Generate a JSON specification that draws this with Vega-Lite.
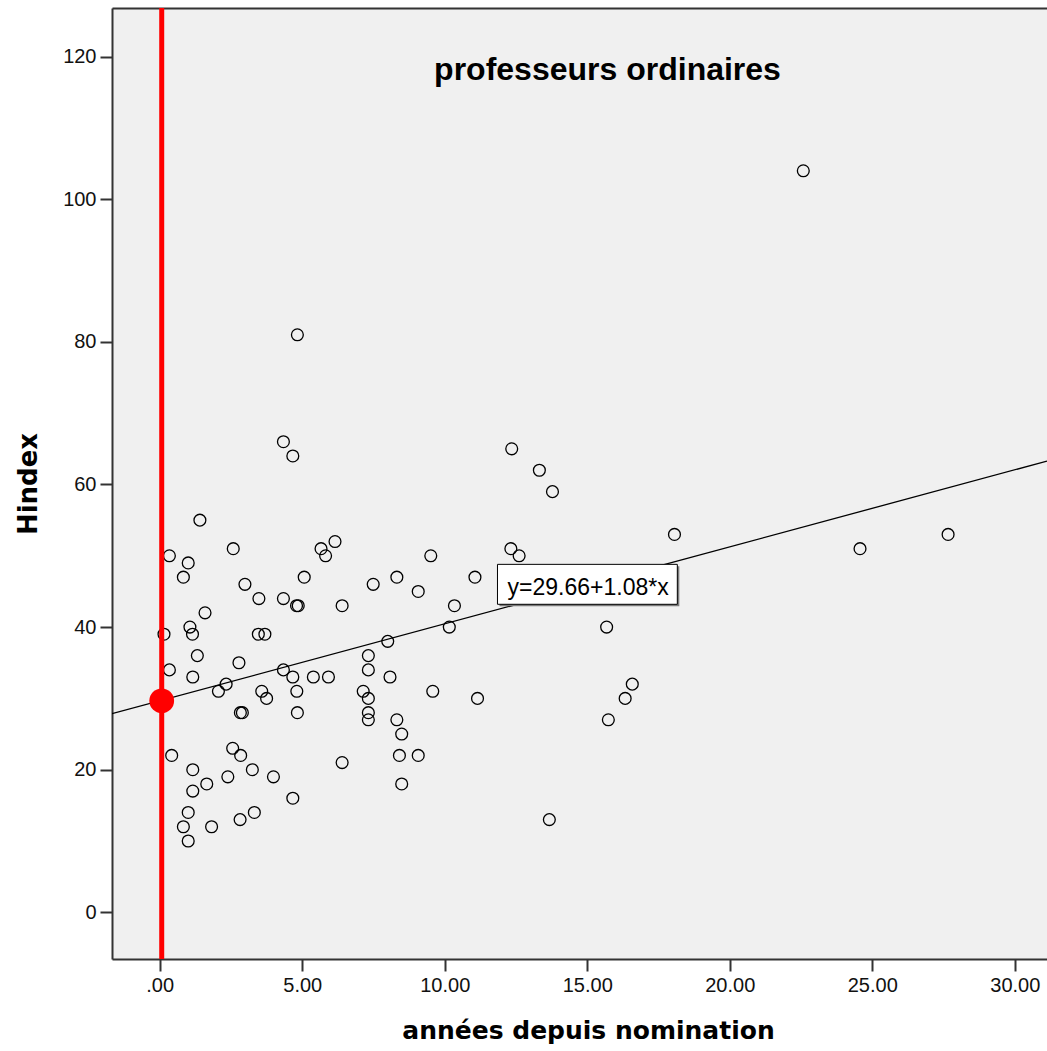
{
  "$schema": "https://vega.github.io/schema/vega-lite/v6.json",
  "autosize": "none",
  "width": 935,
  "height": 951,
  "padding": {"left": 112, "top": 8, "right": 0, "bottom": 92},
  "background": "white",
  "config": {"view": {"fill": "#f0f0f0", "stroke": null}, "font": "Liberation Sans"},
  "title": {
    "text": "professeurs ordinaires",
    "font": "Liberation Sans",
    "fontSize": 32,
    "fontWeight": "bold",
    "color": "#000",
    "anchor": "middle",
    "frame": "group",
    "orient": "top",
    "offset": 0,
    "baseline": "alphabetic",
    "dy": 106,
    "dx": 28
  },
  "datasets": {
    "pts": [
      {"x": 1.41, "y": 55}, {"x": 0.34, "y": 50}, {"x": 1.0, "y": 49}, {"x": 0.83, "y": 47},
      {"x": 2.58, "y": 51}, {"x": 2.99, "y": 46}, {"x": 3.48, "y": 44}, {"x": 4.34, "y": 44},
      {"x": 4.8, "y": 43}, {"x": 4.86, "y": 43}, {"x": 5.07, "y": 47}, {"x": 5.66, "y": 51},
      {"x": 6.15, "y": 52}, {"x": 5.82, "y": 50}, {"x": 6.4, "y": 43}, {"x": 1.59, "y": 42},
      {"x": 1.06, "y": 40}, {"x": 1.15, "y": 39}, {"x": 0.15, "y": 39}, {"x": 3.46, "y": 39},
      {"x": 3.69, "y": 39}, {"x": 1.32, "y": 36}, {"x": 2.78, "y": 35}, {"x": 0.34, "y": 34},
      {"x": 1.16, "y": 33}, {"x": 4.34, "y": 34}, {"x": 4.67, "y": 33}, {"x": 5.39, "y": 33},
      {"x": 5.92, "y": 33}, {"x": 2.33, "y": 32}, {"x": 2.06, "y": 31}, {"x": 3.58, "y": 31},
      {"x": 3.75, "y": 30}, {"x": 4.81, "y": 31}, {"x": 4.83, "y": 28}, {"x": 2.83, "y": 28},
      {"x": 2.9, "y": 28}, {"x": 0.42, "y": 22}, {"x": 2.56, "y": 23}, {"x": 2.84, "y": 22},
      {"x": 1.16, "y": 20}, {"x": 2.39, "y": 19}, {"x": 3.25, "y": 20}, {"x": 3.99, "y": 19},
      {"x": 1.65, "y": 18}, {"x": 1.16, "y": 17}, {"x": 4.67, "y": 16}, {"x": 1.0, "y": 14},
      {"x": 3.32, "y": 14}, {"x": 0.83, "y": 12}, {"x": 1.82, "y": 12}, {"x": 2.82, "y": 13},
      {"x": 1.0, "y": 10}, {"x": 6.4, "y": 21}, {"x": 4.83, "y": 81}, {"x": 4.34, "y": 66},
      {"x": 4.67, "y": 64}, {"x": 7.49, "y": 46}, {"x": 8.32, "y": 47}, {"x": 9.07, "y": 45},
      {"x": 9.51, "y": 50}, {"x": 11.06, "y": 47}, {"x": 10.34, "y": 43}, {"x": 10.16, "y": 40},
      {"x": 8.0, "y": 38}, {"x": 7.32, "y": 36}, {"x": 7.32, "y": 34}, {"x": 8.08, "y": 33},
      {"x": 7.14, "y": 31}, {"x": 9.58, "y": 31}, {"x": 7.32, "y": 30}, {"x": 7.32, "y": 28},
      {"x": 7.32, "y": 27}, {"x": 11.15, "y": 30}, {"x": 8.32, "y": 27}, {"x": 8.49, "y": 25},
      {"x": 8.41, "y": 22}, {"x": 9.07, "y": 22}, {"x": 8.49, "y": 18}, {"x": 12.35, "y": 65},
      {"x": 13.32, "y": 62}, {"x": 13.78, "y": 59}, {"x": 18.06, "y": 53}, {"x": 12.32, "y": 51},
      {"x": 12.61, "y": 50}, {"x": 15.68, "y": 40}, {"x": 16.58, "y": 32}, {"x": 16.33, "y": 30},
      {"x": 15.74, "y": 27}, {"x": 13.67, "y": 13}, {"x": 22.58, "y": 104}, {"x": 24.57, "y": 51},
      {"x": 27.66, "y": 53}
    ],
    "fit": [
      {"x": -1.674, "y": 27.85},
      {"x": 31.13, "y": 63.28}
    ],
    "ann": [
      {"x1": 11.85, "x2": 18.16, "y1": 43.2, "y2": 48.8, "xm": 15.03, "ym": 44.5, "label": "y=29.66+1.08*x"}
    ],
    "marker": [
      {"x": 0, "y": 29.66}
    ]
  },
  "layer": [
    {
      "data": {"name": "pts"},
      "mark": {"type": "point", "shape": "circle", "filled": false, "stroke": "#000", "strokeWidth": 1.3, "size": 140, "opacity": 1},
      "encoding": {
        "x": {
          "field": "x", "type": "quantitative",
          "scale": {"domain": [-1.674, 31.13], "nice": false, "zero": false},
          "axis": {
            "orient": "bottom",
            "values": [0, 5, 10, 15, 20, 25, 30],
            "labelExpr": "datum.value == 0 ? '.00' : format(datum.value, '.2f')",
            "title": "années depuis nomination",
            "grid": false,
            "tickSize": 12,
            "labelPadding": 4,
            "labelFontSize": 20,
            "labelFont": "Liberation Sans",
            "labelColor": "#111",
            "domainColor": "#333",
            "domainWidth": 2,
            "tickColor": "#333",
            "tickWidth": 2,
            "titleFont": "DejaVu Sans",
            "titleFontSize": 25,
            "titleFontWeight": "bold",
            "titleColor": "#000",
            "titleX": 476,
            "titleY": 71,
            "titleAlign": "center",
            "titleBaseline": "middle"
          }
        },
        "y": {
          "field": "y", "type": "quantitative",
          "scale": {"domain": [-6.55, 126.83], "nice": false, "zero": false},
          "axis": {
            "values": [0, 20, 40, 60, 80, 100, 120],
            "format": "d",
            "title": "Hindex",
            "grid": false,
            "tickSize": 12,
            "labelPadding": 4,
            "labelFontSize": 20,
            "labelFont": "Liberation Sans",
            "labelColor": "#111",
            "domainColor": "#333",
            "domainWidth": 2,
            "tickColor": "#333",
            "tickWidth": 2,
            "titleFont": "DejaVu Sans",
            "titleFontSize": 26,
            "titleFontWeight": "bold",
            "titleColor": "#000",
            "titleX": -84,
            "titleY": 475.5,
            "titleAngle": -90,
            "titleAlign": "center",
            "titleBaseline": "middle"
          }
        }
      }
    },
    {
      "data": {"name": "fit"},
      "mark": {"type": "line", "color": "#000", "strokeWidth": 1.3, "clip": true},
      "encoding": {
        "x": {
          "field": "x", "type": "quantitative",
          "scale": {"domain": [-1.674, 31.13], "nice": false, "zero": false},
          "axis": {"orient": "top", "domain": true, "ticks": false, "labels": false, "title": null, "grid": false, "domainColor": "#333", "domainWidth": 2}
        },
        "y": {"field": "y", "type": "quantitative"}
      }
    },
    {
      "data": {"name": "ann"},
      "mark": {"type": "rect", "fill": "#7a7a7a", "xOffset": 2, "x2Offset": 2, "yOffset": 2, "y2Offset": 2},
      "encoding": {
        "x": {"field": "x1", "type": "quantitative", "axis": null},
        "x2": {"field": "x2"},
        "y": {"field": "y1", "type": "quantitative"},
        "y2": {"field": "y2"}
      }
    },
    {
      "data": {"name": "ann"},
      "mark": {"type": "rect", "fill": "#ffffff", "stroke": "#000", "strokeWidth": 1},
      "encoding": {
        "x": {"field": "x1", "type": "quantitative", "axis": null},
        "x2": {"field": "x2"},
        "y": {"field": "y1", "type": "quantitative"},
        "y2": {"field": "y2"}
      }
    },
    {
      "data": {"name": "ann"},
      "mark": {"type": "text", "font": "Liberation Sans", "fontSize": 23, "color": "#000", "align": "center", "baseline": "alphabetic"},
      "encoding": {
        "x": {"field": "xm", "type": "quantitative", "axis": null},
        "y": {"field": "ym", "type": "quantitative"},
        "text": {"field": "label"}
      }
    },
    {
      "data": {"name": "marker"},
      "mark": {"type": "rule", "color": "#ff0000", "strokeWidth": 5, "xOffset": 2},
      "encoding": {
        "x": {"field": "x", "type": "quantitative", "axis": null}
      }
    },
    {
      "data": {"name": "marker"},
      "mark": {"type": "point", "shape": "circle", "filled": true, "color": "#ff0000", "size": 615, "opacity": 1, "xOffset": 2},
      "encoding": {
        "x": {"field": "x", "type": "quantitative", "axis": null},
        "y": {"field": "y", "type": "quantitative"}
      }
    }
  ],
  "resolve": {"axis": {"x": "independent"}}
}
